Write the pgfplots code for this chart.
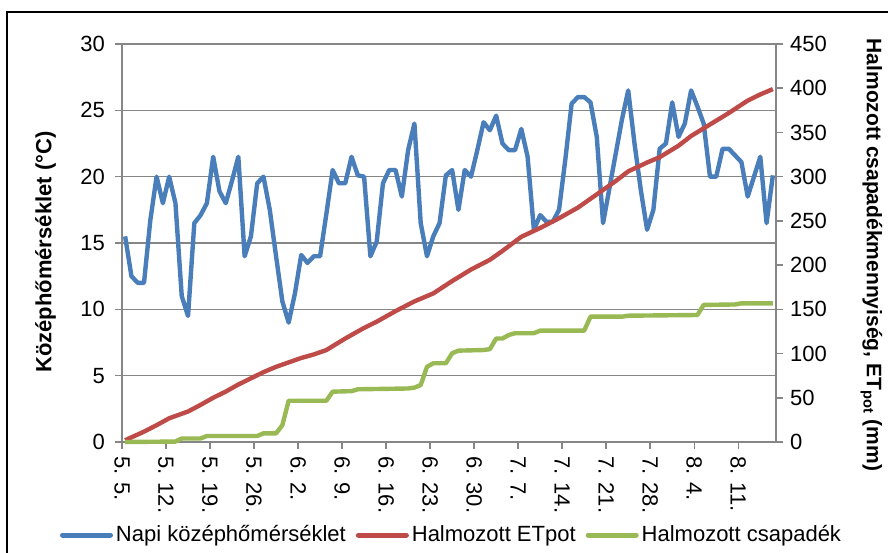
\documentclass[border=0pt]{standalone}
\usepackage{fontspec}
\setmainfont{Liberation Sans}
\usepackage{pgfplots}
\pgfplotsset{compat=1.18}
\definecolor{cblue}{HTML}{4A7EBB}
\definecolor{cred}{HTML}{BE4B48}
\definecolor{cgreen}{HTML}{98B954}
\definecolor{cgrid}{HTML}{868686}
\begin{document}
\begin{tikzpicture}
\useasboundingbox (-61pt,-55pt) rectangle (383pt,221pt);
\draw[black, line width=0.6pt] (-57.5pt,-56pt) -- (-57.5pt,215pt) -- (384pt,215pt);
\pgfplotsset{
  every axis/.append style={
    scale only axis, width=327pt, height=199pt,
    xmin=-0.5, xmax=103.5,
    tick align=outside, major tick length=3.5pt,
    tick style={cgrid, line width=0.75pt},
    axis line style={cgrid, line width=0.75pt},
    /pgf/number format/assume math mode=true,
    tick label style={font=\fontsize{11}{13}\selectfont},
    label style={font=\bfseries\fontsize{11}{13}\selectfont},
    clip=false,
  }
}
\begin{axis}[
  axis x line*=bottom, axis y line*=left,
  ymin=0, ymax=30, ytick={0,5,10,15,20,25,30},
  yticklabel style={xshift=-1.5pt},
  xtick={-0.5,6.5,13.5,20.5,27.5,34.5,41.5,48.5,55.5,62.5,69.5,76.5,83.5,90.5,97.5},
  xticklabels={5. 5.,5. 12.,5. 19.,5. 26.,6. 2.,6. 9.,6. 16.,6. 23.,6. 30.,7. 7.,7. 14.,7. 21.,7. 28.,8. 4.,8. 11.},
  xticklabel style={rotate=-90, anchor=west},
  ymajorgrids, grid style={cgrid, line width=0.75pt},
  ylabel={Középhőmérséklet (°C)},
  ylabel style={at={(axis description cs:-0.1167,0.477)}, anchor=center},
]
\addplot[cblue, line width=2.2pt, line join=round] coordinates {
(0,15.5)(1,12.5)(2,12.0)(3,12.0)(4,16.7)(5,20.0)(6,18.0)(7,20.0)(8,18.0)(9,11.0)
(10,9.5)(11,16.5)(12,17.1)(13,18.0)(14,21.5)(15,18.9)(16,18.0)(17,19.7)(18,21.5)(19,14.0)
(20,15.5)(21,19.5)(22,20.0)(23,17.5)(24,14.0)(25,10.6)(26,9.0)(27,11.2)(28,14.1)(29,13.5)
(30,14.0)(31,14.0)(32,17.2)(33,20.5)(34,19.5)(35,19.5)(36,21.5)(37,20.1)(38,20.0)(39,14.0)
(40,15.1)(41,19.5)(42,20.5)(43,20.5)(44,18.5)(45,22.0)(46,24.0)(47,16.5)(48,14.0)(49,15.5)
(50,16.5)(51,20.1)(52,20.5)(53,17.5)(54,20.5)(55,20.0)(56,22.0)(57,24.1)(58,23.5)(59,24.6)
(60,22.5)(61,22.0)(62,22.0)(63,23.6)(64,21.5)(65,16.0)(66,17.1)(67,16.6)(68,16.6)(69,17.5)
(70,21.3)(71,25.5)(72,26.0)(73,26.0)(74,25.6)(75,23.0)(76,16.5)(77,19.1)(78,21.7)(79,24.3)
(80,26.5)(81,22.5)(82,19.0)(83,16.0)(84,17.5)(85,22.1)(86,22.5)(87,25.6)(88,23.0)(89,24.0)
(90,26.5)(91,25.3)(92,24.0)(93,20.0)(94,20.0)(95,22.1)(96,22.1)(97,21.6)(98,21.1)(99,18.5)
(100,20.0)(101,21.5)(102,16.5)(103,20.1)
};
\end{axis}
\begin{axis}[
  axis x line=none, axis y line*=right,
  ymin=0, ymax=450, ytick={0,50,100,150,200,250,300,350,400,450},
  xtick=\empty,
  ylabel={Halmozott csapadékmennyiség, ET\textsubscript{pot} (mm)},
  ylabel style={at={(axis description cs:1.146,0.47)}, anchor=center, rotate=180, font=\bfseries\fontsize{10.5}{12}\selectfont},
  legend columns=3,
  legend style={draw=none, fill=none, at={(axis description cs:0.5046,-0.2337)}, anchor=center,
    font=\fontsize{11}{13}\selectfont, nodes={inner sep=1.5pt},
    /tikz/every even column/.append style={column sep=3.5pt}},
  legend image code/.code={\draw[#1, line width=2.5pt, line cap=round] (0pt,0pt) -- (24pt,0pt);},
]
\addlegendimage{cblue}
\addlegendentry{Napi középhőmérséklet}
\addplot[cred, line width=2.2pt, line join=round] coordinates {
(0,2)(3,11.7)(5,19)(7,26.8)(10,34.5)(12,42)(14,50)(16,57)(18,65)(20,72)(22,79)(24,85)
(26,90)(28,95)(30,99)(32,104)(35,117)(38,129)(40,136)(43,148)(46,159)(49,168)(52,182)
(55,195)(58,206)(60,216)(63,232)(66,242)(69,253)(72,265)(75,280)(78,295)(80,306)(83,316)
(85,322)(88,335)(90,346)(93,359)(96,372)(99,386)(101,393)(103,399)
};
\addlegendentry{Halmozott ETpot}
\addplot[cgreen, line width=2.2pt, line join=round] coordinates {
(0,0)(8,0.5)(9,4)(12,4)(13,6.8)(21,6.8)(22,9.8)(24,9.8)(25,19)(26,46.7)(32,46.7)(33,56.9)
(36,57.5)(37,59.6)(45,60.5)(46,61.5)(47,64.4)(48,85)(49,89)(51,89)(52,100.3)(53,103.3)
(57,104)(58,105)(59,117)(60,117)(61,121)(62,123)(65,123)(66,125.9)(73,125.9)(74,141.7)
(79,141.7)(80,142.8)(91,143.6)(92,155)(97,155.5)(98,156.8)(103,156.8)
};
\addlegendentry{Halmozott csapadék}
\end{axis}
\end{tikzpicture}
\end{document}
